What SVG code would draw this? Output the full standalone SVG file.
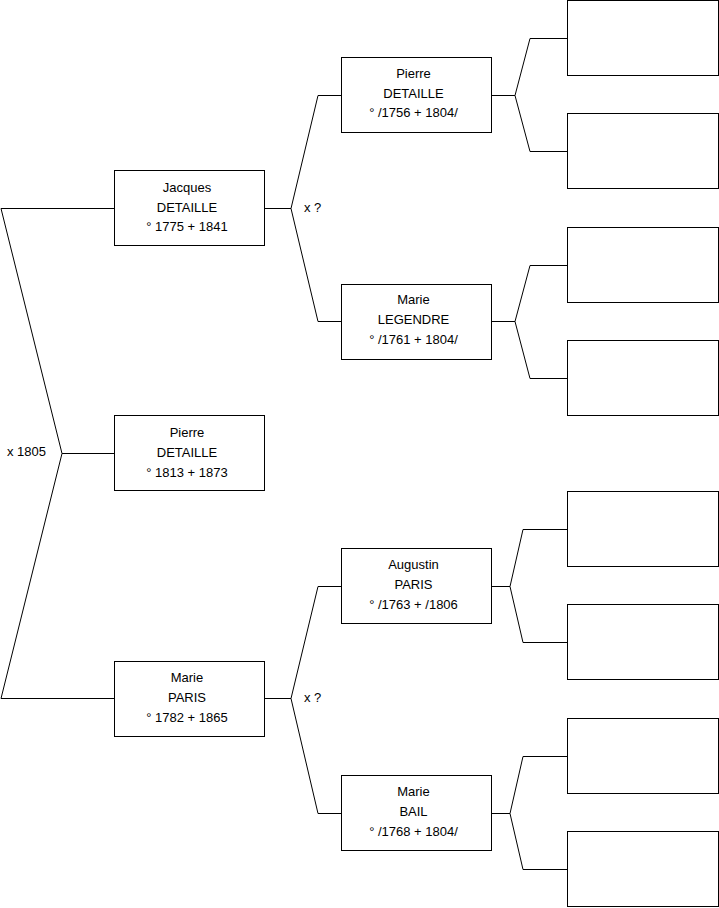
<svg xmlns="http://www.w3.org/2000/svg" width="719" height="908" viewBox="0 0 719 908">
<style>
.box{fill:#fff;stroke:#000;stroke-width:1}
.ln{fill:none;stroke:#000;stroke-width:1}
text{font-family:"Liberation Sans",Arial,sans-serif;font-size:13px;fill:#000}
.c{text-anchor:middle}
</style>
<g id="connectors">
<polyline class="ln" points="114,208.5 1,208.5 62,453.5 1,698.5 114,698.5"/>
<line class="ln" x1="62" y1="453.5" x2="114" y2="453.5"/>
<polyline class="ln" points="341,95.5 318,95.5 291,208.5 318,321.5 341,321.5"/>
<line class="ln" x1="265" y1="208.5" x2="291" y2="208.5"/>
<polyline class="ln" points="341,586.5 318,586.5 291,698.5 318,813.5 341,813.5"/>
<line class="ln" x1="265" y1="698.5" x2="291" y2="698.5"/>
<polyline class="ln" points="567,38.5 530,38.5 515,95.5 530,151.5 567,151.5"/>
<line class="ln" x1="492" y1="95.5" x2="515" y2="95.5"/>
<polyline class="ln" points="567,265.5 530,265.5 515,321.5 530,378.5 567,378.5"/>
<line class="ln" x1="492" y1="321.5" x2="515" y2="321.5"/>
<polyline class="ln" points="567,529.5 523,529.5 510,586.5 523,642.5 567,642.5"/>
<line class="ln" x1="492" y1="586.5" x2="510" y2="586.5"/>
<polyline class="ln" points="567,756.5 523,756.5 510,813.5 523,869.5 567,869.5"/>
<line class="ln" x1="492" y1="813.5" x2="510" y2="813.5"/>
<text x="7" y="456">x 1805</text>
<text x="304" y="212">x ?</text>
<text x="304" y="702">x ?</text>
</g>
<g id="n-pierre-root">
<rect class="box" x="114.5" y="415.5" width="150" height="75"/>
<text class="c" x="187" y="437">Pierre</text>
<text class="c" x="187" y="457">DETAILLE</text>
<text class="c" x="187" y="476.5">° 1813 + 1873</text>
</g>
<g id="n-jacques">
<rect class="box" x="114.5" y="170.5" width="150" height="75"/>
<text class="c" x="187" y="191.5">Jacques</text>
<text class="c" x="187" y="211.5">DETAILLE</text>
<text class="c" x="187" y="231">° 1775 + 1841</text>
</g>
<g id="n-marie-paris">
<rect class="box" x="114.5" y="661.5" width="150" height="75"/>
<text class="c" x="187" y="682">Marie</text>
<text class="c" x="187" y="702">PARIS</text>
<text class="c" x="187" y="721.5">° 1782 + 1865</text>
</g>
<g id="n-pierre-detaille">
<rect class="box" x="341.5" y="57.5" width="150" height="75"/>
<text class="c" x="413.5" y="77.5">Pierre</text>
<text class="c" x="413.5" y="97.5">DETAILLE</text>
<text class="c" x="413.5" y="117">° /1756 + 1804/</text>
</g>
<g id="n-marie-legendre">
<rect class="box" x="341.5" y="284.5" width="150" height="75"/>
<text class="c" x="413.5" y="304">Marie</text>
<text class="c" x="413.5" y="324">LEGENDRE</text>
<text class="c" x="413.5" y="343.5">° /1761 + 1804/</text>
</g>
<g id="n-augustin-paris">
<rect class="box" x="341.5" y="548.5" width="150" height="75"/>
<text class="c" x="413.5" y="569">Augustin</text>
<text class="c" x="413.5" y="589">PARIS</text>
<text class="c" x="413.5" y="608.5">° /1763 + /1806</text>
</g>
<g id="n-marie-bail">
<rect class="box" x="341.5" y="775.5" width="150" height="75"/>
<text class="c" x="413.5" y="796">Marie</text>
<text class="c" x="413.5" y="816">BAIL</text>
<text class="c" x="413.5" y="835.5">° /1768 + 1804/</text>
</g>
<g id="n-g3-1"><rect class="box" x="567.5" y="0.5" width="151" height="75"/></g>
<g id="n-g3-2"><rect class="box" x="567.5" y="113.5" width="151" height="75"/></g>
<g id="n-g3-3"><rect class="box" x="567.5" y="227.5" width="151" height="75"/></g>
<g id="n-g3-4"><rect class="box" x="567.5" y="340.5" width="151" height="75"/></g>
<g id="n-g3-5"><rect class="box" x="567.5" y="491.5" width="151" height="75"/></g>
<g id="n-g3-6"><rect class="box" x="567.5" y="604.5" width="151" height="75"/></g>
<g id="n-g3-7"><rect class="box" x="567.5" y="718.5" width="151" height="75"/></g>
<g id="n-g3-8"><rect class="box" x="567.5" y="831.5" width="151" height="75"/></g>
</svg>
